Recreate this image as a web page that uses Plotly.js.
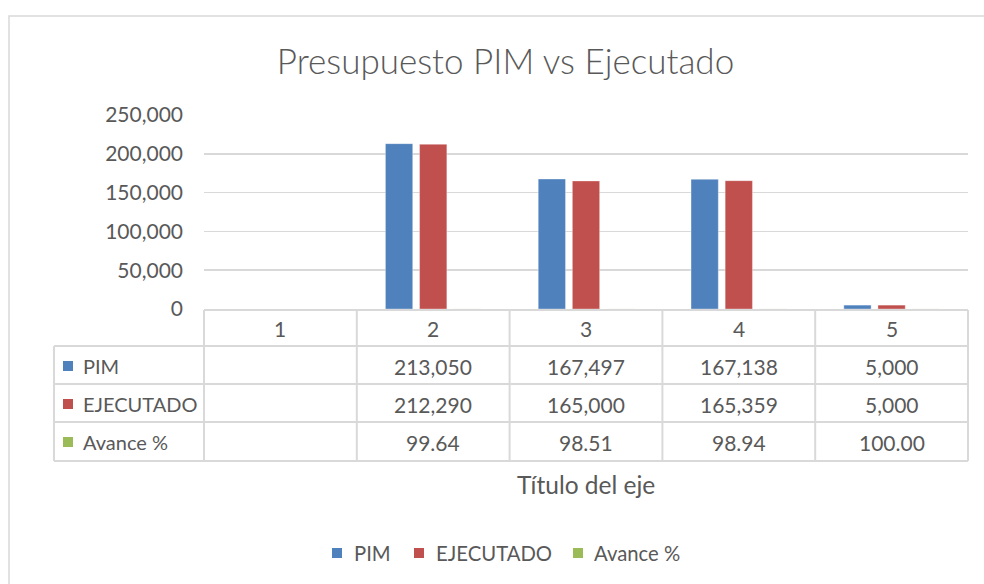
<!DOCTYPE html>
<html>
<head>
<meta charset="utf-8">
<script src="https://cdn.plot.ly/plotly-3.0.1.min.js"></script>
<style>html,body{margin:0;padding:0;background:#fff;}#chart{width:984px;height:584px;}</style>
</head>
<body>
<div id="chart"></div>
<script>
const categories = [1, 2, 3, 4, 5];
const pim = [null, 213050, 167497, 167138, 5000];
const ejecutado = [null, 212290, 165000, 165359, 5000];
const avance = [null, 99.64, 98.51, 98.94, 100.00];
const seriesNames = ["PIM", "EJECUTADO", "Avance %"];
const seriesColors = ["#4f81bd", "#c0504d", "#9bbb59"];
const yTicks = [0, 50000, 100000, 150000, 200000, 250000];

const W = 984, H = 584;
const L = 204, R = 968, T = 115, B = 309;
const PH = B - T, PW = R - L;
const py = p => (B - p) / PH;          // pixel y -> paper y
const px = p => (p - L) / PW;          // pixel x -> paper x
const FONT = "Lato, 'Open Sans', sans-serif";
const TXT = "#595959";
const GRID = "#d9d9d9";

const seriesData = [pim, ejecutado, avance];
const traces = seriesData.map((vals, i) => ({
  type: "bar",
  name: seriesNames[i],
  x: categories,
  y: vals,
  marker: {color: seriesColors[i], line: {color: "rgba(255,255,255,0.35)", width: 1}},
  hoverinfo: "skip",
  showlegend: false
}));

// table geometry (pixel rows)
const rowLines = [346, 384, 422, 461];
const rowCenters = [366, 404, 442];
const headerCenter = 328;
const tableLeft = 54;
const N = categories.length;

const shapes = [];
// outer chart border
shapes.push({type: "rect", xref: "paper", yref: "paper",
  x0: px(9), x1: px(990), y0: py(16), y1: py(600),
  line: {color: GRID, width: 1.5}, fillcolor: "rgba(0,0,0,0)", layer: "below"});
// header top line (axis baseline)
shapes.push({type: "line", xref: "paper", yref: "paper", x0: 0, x1: 1, y0: py(310), y1: py(310), line: {color: GRID, width: 2}});
// horizontal row lines
rowLines.forEach(r => shapes.push({type: "line", xref: "paper", yref: "paper",
  x0: px(tableLeft), x1: 1, y0: py(r), y1: py(r), line: {color: GRID, width: 2}}));
// vertical lines at category boundaries
for (let k = 0; k <= N; k++) {
  shapes.push({type: "line", xref: "paper", yref: "paper",
    x0: k / N, x1: k / N, y0: py(310), y1: py(461), line: {color: GRID, width: 2}});
}
// left edge of table
shapes.push({type: "line", xref: "paper", yref: "paper",
  x0: px(tableLeft), x1: px(tableLeft), y0: py(346), y1: py(461), line: {color: GRID, width: 2}});
// legend key squares in the table
seriesColors.forEach((c, i) => shapes.push({type: "rect", xref: "paper", yref: "paper",
  x0: px(63), x1: px(73), y0: py(rowCenters[i] - 5), y1: py(rowCenters[i] + 5),
  fillcolor: c, line: {width: 0}}));

const annotations = [];
// header category labels
categories.forEach(c => annotations.push({xref: "x", yref: "paper", x: c, y: py(headerCenter),
  text: String(c), showarrow: false, font: {family: FONT, size: 21, color: TXT}, xanchor: "center", yanchor: "middle"}));
// row labels
seriesNames.forEach((n, i) => annotations.push({xref: "paper", yref: "paper", x: px(81), y: py(rowCenters[i]),
  text: n, showarrow: false, font: {family: FONT, size: 20, color: TXT}, xanchor: "left", yanchor: "middle"}));
// cell values
const fmt = [v => v.toLocaleString("en-US"), v => v.toLocaleString("en-US"), v => v.toFixed(2)];
seriesData.forEach((vals, i) => vals.forEach((v, j) => {
  if (v === null) return;
  annotations.push({xref: "x", yref: "paper", x: categories[j], y: py(rowCenters[i]),
    text: fmt[i](v), showarrow: false, font: {family: FONT, size: 21, color: TXT}, xanchor: "center", yanchor: "middle"});
}));
// axis title
annotations.push({xref: "paper", yref: "paper", x: 0.5, y: py(484), text: "Título del eje", showarrow: false,
  font: {family: FONT, size: 24.5, color: TXT}, xanchor: "center", yanchor: "middle"});

// custom legend (bottom)
const legendSquares = [332, 414, 573];
const legendText = [352, 434, 592];
const legendY = 553;
seriesNames.forEach((n, i) => {
  shapes.push({type: "rect", xref: "paper", yref: "paper",
    x0: px(legendSquares[i]), x1: px(legendSquares[i] + 10), y0: py(legendY - 5), y1: py(legendY + 5),
    fillcolor: seriesColors[i], line: {width: 0}});
  annotations.push({xref: "paper", yref: "paper", x: px(legendText[i]), y: py(legendY), text: n, showarrow: false,
    font: {family: FONT, size: 20.3, color: TXT}, xanchor: "left", yanchor: "middle"});
});

const layout = {
  width: W, height: H,
  margin: {l: L, r: W - R, t: T, b: H - B, pad: 0},
  paper_bgcolor: "#ffffff", plot_bgcolor: "#ffffff",
  title: {text: "Presupuesto PIM vs Ejecutado", font: {family: FONT, size: 35, color: TXT, weight: 300},
    x: 505.5 / W, xref: "container", xanchor: "center", y: 1 - 62 / H, yanchor: "middle"},
  barmode: "group", bargap: 0.33, bargroupgap: 0.2,
  xaxis: {range: [0.5, 5.5], showticklabels: false, showgrid: false, zeroline: false, showline: false, ticks: "", fixedrange: true},
  yaxis: {range: [0, 250000], tickvals: yTicks, tickformat: ",", showgrid: true, gridcolor: GRID, gridwidth: 1.5,
    zeroline: false, showline: false, ticks: "", ticklabelstandoff: 20,
    tickfont: {family: FONT, size: 21, color: TXT}, fixedrange: true},
  showlegend: false,
  shapes: shapes,
  annotations: annotations
};

Plotly.newPlot("chart", traces, layout, {staticPlot: true, displayModeBar: false});
</script>
</body>
</html>
